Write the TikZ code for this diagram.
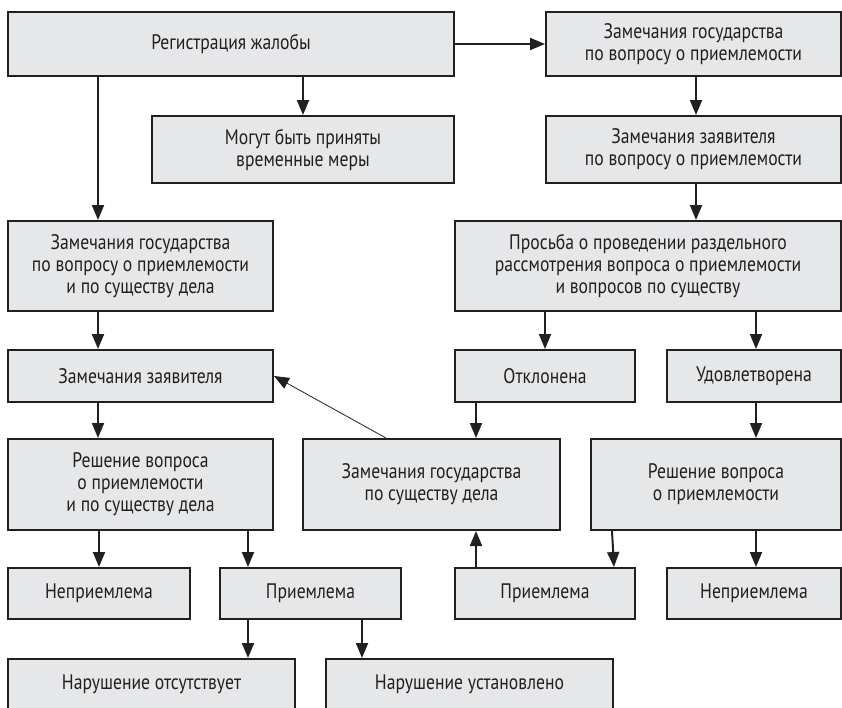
\documentclass[tikz,border=0pt]{standalone}
\usepackage{fontspec}
\setmainfont{PT Sans}[FakeStretch=0.84]
\usetikzlibrary{arrows.meta,positioning,calc}
\definecolor{boxgray}{HTML}{E6E7E8}
\definecolor{ink}{HTML}{231F20}

\begin{document}
\begin{tikzpicture}[x=1pt,y=-1pt,
every node/.style={draw=ink,fill=boxgray,line width=2pt,align=center,inner sep=0pt,
text=ink,font=\fontsize{21}{22}\selectfont},
arr/.style={draw=ink,line width=2pt,-{Triangle[length=15pt,width=12pt]}}]
\path[use as bounding box,clip] (0,0) rectangle (842,707);

\node[minimum width=446,minimum height=64] (B1) at (231,44) {Регистрация жалобы};
\node[minimum width=302,minimum height=67] (B2) at (303,149.5) {Могут быть приняты\\временные меры};
\node[minimum width=265,minimum height=90] (B3) at (140.5,266) {Замечания государства\\по вопросу о приемлемости\\и по существу дела};
\node[minimum width=265,minimum height=52] (B4) at (140.5,376) {Замечания заявителя};
\node[minimum width=265,minimum height=91] (B5) at (140.5,484.5) {Решение вопроса\\о приемлемости\\и по существу дела};
\node[minimum width=182,minimum height=51] (B6) at (99,593.5) {Неприемлема};
\node[minimum width=181,minimum height=51] (B7) at (310.5,593.5) {Приемлема};
\node[minimum width=287,minimum height=51] (B8) at (151.5,684.5) {Нарушение отсутствует};
\node[minimum width=287,minimum height=51] (B9) at (469.5,684.5) {Нарушение установлено};

\node[minimum width=295,minimum height=64] (B10) at (693.5,44) {Замечания государства\\по вопросу о приемлемости};
\node[minimum width=295,minimum height=67] (B11) at (693.5,149.5) {Замечания заявителя\\по вопросу о приемлемости};
\node[minimum width=386,minimum height=90] (B12) at (648,266) {Просьба о проведении раздельного\\рассмотрения вопроса о приемлемости\\и вопросов по существу};
\node[minimum width=180,minimum height=52] (B13) at (545,376) {Отклонена};
\node[minimum width=174,minimum height=52] (B14) at (754,376) {Удовлетворена};
\node[minimum width=257,minimum height=91] (B15) at (431.5,484.5) {Замечания государства\\по существу дела};
\node[minimum width=250,minimum height=91] (B16) at (716,484.5) {Решение вопроса\\о приемлемости};
\node[minimum width=180,minimum height=51] (B17) at (545,593.5) {Приемлема};
\node[minimum width=174,minimum height=51] (B18) at (754,593.5) {Неприемлема};

\draw[arr] ([xshift=91pt]B1.south west) -- ([xshift=91pt]B3.north west);
\draw[arr] (B1.south -| B2.north) -- (B2.north);
\draw[arr] (B1.east) -- (B10.west);
\draw[arr] ([xshift=151pt]B10.south west) -- ([xshift=151pt]B11.north west);
\draw[arr] ([xshift=151pt]B11.south west) -- ([xshift=242pt]B12.north west);
\draw[arr] ([xshift=91pt]B3.south west) -- ([xshift=91pt]B4.north west);
\draw[arr] ([xshift=91pt]B4.south west) -- ([xshift=91pt]B5.north west);
\draw[arr] (B5.south -| B6.north) -- (B6.north);
\draw[arr] ([xshift=241pt]B5.south west) -- ([xshift=29pt]B7.north west);
\draw[arr] ([xshift=29pt]B7.south west) -- ([xshift=241pt]B8.north west);
\draw[arr] ([xshift=143pt]B7.south west) -- ([xshift=37pt]B9.north west);

\draw[arr] ([xshift=91pt]B12.south west) -- ([xshift=91pt]B13.north west);
\draw[arr] ([xshift=302pt]B12.south west) -- ([xshift=90pt]B14.north west);
\draw[arr] ([xshift=22pt]B13.south west) -- ([xshift=174pt]B15.north west);
\draw[arr,line width=.8pt] ([xshift=84pt]B15.north west) -- (B4.east);
\draw[arr] ([xshift=90pt]B14.south west) -- ([xshift=166pt]B16.north west);
\draw[arr] ([xshift=22pt]B16.south west) -- ([xshift=-22pt]B17.north east);
\draw[arr] ([xshift=166pt]B16.south west) -- ([xshift=90pt]B18.north west);
\draw[arr] ([xshift=22pt]B17.north west) -- ([xshift=174pt]B15.south west);
\end{tikzpicture}
\end{document}
